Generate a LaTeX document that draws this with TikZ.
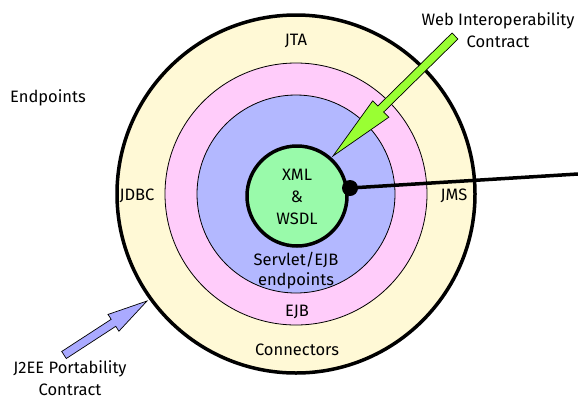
\documentclass[tikz,border=0pt]{standalone}
\usepackage{fontspec}
\setmainfont{Fira Sans}
\usetikzlibrary{calc}
\definecolor{ringcream}{RGB}{255,249,214}
\definecolor{ringpink}{RGB}{255,204,250}
\definecolor{ringblue}{RGB}{179,184,255}
\definecolor{coremint}{RGB}{153,250,170}
\definecolor{arrowlime}{RGB}{153,255,51}
\definecolor{arrowblue}{RGB}{170,170,255}
\begin{document}
\begin{tikzpicture}[x=1pt,y=-1pt]
		\newcommand{\mylabelfont}{\fontsize{16.5}{22}\selectfont}
		\newcommand{\myblockarrow}[6]{
			% tail, tip, head length, head half width, shaft half width, fill
			\coordinate (hb) at ($(#2)!#3!(#1)$);
			\draw[fill=#6, line width=0.7pt, line join=miter]
				($(#1)!#5!90:(#2)$) -- ($(hb)!#5!-90:(#1)$) -- ($(hb)!#4!-90:(#1)$)
				-- (#2) -- ($(hb)!#4!90:(#1)$) -- ($(hb)!#5!90:(#1)$)
				-- ($(#1)!#5!-90:(#2)$) -- cycle;
		}%Page
		\useasboundingbox (0,0) rectangle (578,400);
		%Centre of the rings
		\coordinate (centre) at (296,194);
		%Rings from outside to inside
		\node [circle, draw, line width=3.5pt, fill=ringcream, minimum size=358pt, inner sep=0pt] (outer) at (centre) {};
		\node [circle, draw, line width=0.8pt, fill=ringpink, minimum size=262pt, inner sep=0pt] (ejbring) at (centre) {};
		\node [circle, draw, line width=0.8pt, fill=ringblue, minimum size=198pt, inner sep=0pt] (servletring) at (centre) {};
		\node [circle, draw, line width=3.5pt, fill=coremint, minimum size=100pt, inner sep=0pt] (core) at (297,196) {};
		%Texts in the rings
		\node [align=center, font=\mylabelfont] (xml) at (297,197) {XML\\\&\\WSDL};
		\node [align=center, font=\mylabelfont] (servlet) at (296,271) {Servlet/EJB\\[-2pt]endpoints};
		\node [font=\mylabelfont] (jta) at (296,41) {JTA};
		\node [font=\mylabelfont] (ejb) at (297,312) {EJB};
		\node [font=\mylabelfont] (conn) at (297,350) {Connectors};
		\node [font=\mylabelfont] (jdbc) at (137,196) {JDBC};
		\node [font=\mylabelfont] (jms) at (454,196) {JMS};
		%Texts outside
		\node [font=\mylabelfont] (endpoints) at (48,98) {Endpoints};
		\node [align=center, font=\mylabelfont] (webcontract) at (498,30) {Web Interoperability\\Contract};
		\node [align=center, font=\mylabelfont] (portcontract) at (70,378) {J2EE Portability\\Contract};
		%Line to the right
		\coordinate (dot) at (350,188);
		\coordinate (lineend) at (578,174);
		\draw [line width=3.5pt] (dot) -- (lineend);
		\fill (dot) circle (8pt);
		%Block arrows
		\coordinate (webtail) at (455,36);
		\coordinate (webtip) at (333,156);
		\myblockarrow{webtail}{webtip}{67pt}{11.5pt}{4.2pt}{arrowlime}
		\coordinate (porttail) at (64,355);
		\coordinate (porttip) at (147,301);
		\myblockarrow{porttail}{porttip}{40pt}{10pt}{4.2pt}{arrowblue}
		\end{tikzpicture}
\end{document}
